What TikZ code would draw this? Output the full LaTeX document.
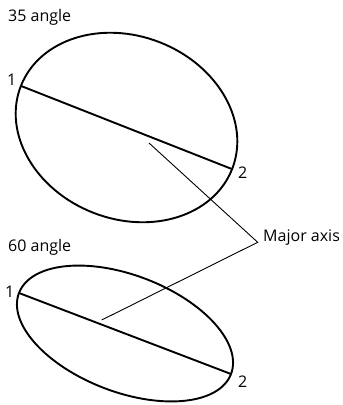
\documentclass[tikz,border=0pt]{standalone}
\usepackage{fontspec}
\setmainfont{Open Sans}
\begin{document}
\begin{tikzpicture}[x=1pt,y=1pt,
  lbl/.style={inner sep=0pt, font=\fontsize{16}{19}\selectfont, anchor=base west},
  thick2/.style={line width=1.9pt},
  leader/.style={line width=0.9pt}]
\useasboundingbox (0,0) rectangle (343,-405);
% top ellipse
\coordinate (c1) at (126.5,-127.5);
\draw[thick2] (c1) ellipse [x radius=113.5, y radius=91.5, rotate=-21.5];
\coordinate (a1) at (20.9,-85.9);
\coordinate (b1) at (232.1,-169.1);
\draw[thick2] (a1) -- (b1);
% bottom ellipse
\coordinate (c2) at (125,-333.5);
\draw[thick2] (c2) ellipse [x radius=113.5, y radius=58.4, rotate=-20.9];
\coordinate (a2) at (19,-293);
\coordinate (b2) at (231,-374);
\draw[thick2] (a2) -- (b2);
% labels
\node[lbl] (t1) at (8,-21) {35 angle};
\node[lbl] (t2) at (8,-251.7) {60 angle};
\node[lbl] (n1a) at (7,-85) {1};
\node[lbl] (n2a) at (238,-178.5) {2};
\node[lbl] (n1b) at (5,-297) {1};
\node[lbl] (n2b) at (238,-387.5) {2};
\node[lbl] (maj) at (263,-241.7) {Major axis};
% leaders
\coordinate (s1) at (149,-143);
\coordinate (v) at (257.7,-242.3);
\coordinate (s2) at (101.7,-320);
\draw[leader] (s1) -- (v) -- (s2);
\end{tikzpicture}
\end{document}
